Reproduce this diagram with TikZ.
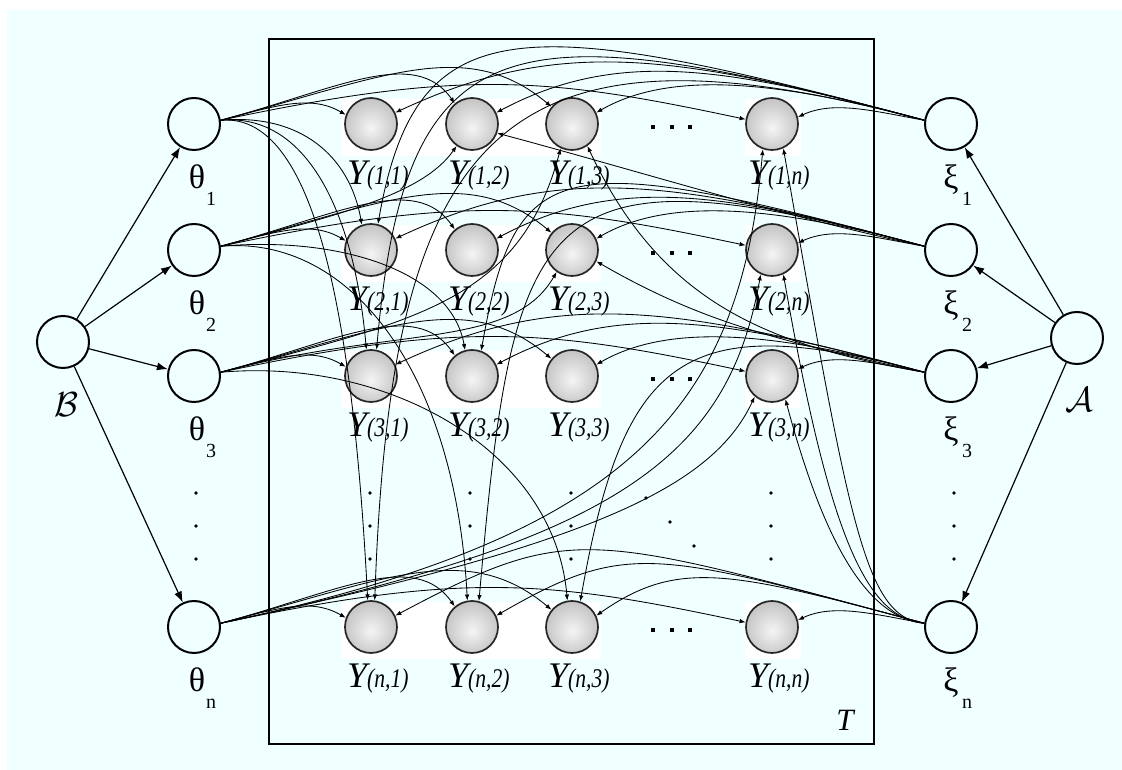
\documentclass[tikz,border=0pt]{standalone}
\usepackage{fontspec}
\setmainfont{Liberation Serif}
\usepackage{graphicx}
\usetikzlibrary{arrows.meta}
\definecolor{bgc}{RGB}{240,255,255}
\pgfdeclareradialshading{ballsh}{\pgfpoint{0bp}{-4bp}}{color(0bp)=(white!96!black); color(22bp)=(black!20); color(40bp)=(black!32); color(50bp)=(black!45)}
\newcommand\ylabtext[2]{\fontsize{36}{36}\selectfont\itshape Y\scalebox{0.8}[1]{\fontsize{27}{27}\selectfont(#1,#2)}}
\newcommand\callab[1]{\scalebox{1.4}{\fontsize{24}{24}\selectfont$\mathcal{#1}$}}
\tikzset{
  obs/.style={circle, minimum size=52pt, inner sep=0pt, draw=black!85, line width=1.7pt, shading=ballsh},
  par/.style={circle, minimum size=52pt, inner sep=0pt, draw=black, line width=2pt},
  e/.style={-{Latex[length=6pt,width=4.5pt]}, line width=0.85pt},
  big/.style={-{Latex[length=11pt,width=8pt]}, line width=1.2pt},
  glab/.style={inner sep=0pt, font=\fontsize{34}{34}\selectfont},
  slab/.style={inner sep=0pt, font=\fontsize{20}{20}\selectfont},
  cal/.style={inner sep=0pt},
  ylab/.style={inner sep=0pt},
  dotc/.style={fill=black, circle, inner sep=0pt, minimum size=3.6pt},
  dots/.style={fill=black, rectangle, inner sep=0pt, minimum size=4.5pt}
}
\begin{document}
\begin{tikzpicture}[x=1pt,y=1pt]
\useasboundingbox (0,0) rectangle (1122,770);
\fill[bgc] (7,0) rectangle (1122,760);
% plate
\draw[line width=2.2pt] (269,26) rectangle (874,731);
\node[inner sep=0pt, font=\fontsize{31}{31}\selectfont\itshape] (Tl) at (845,50) {T};
% white backgrounds
\foreach \yy in {646,520,394,143}{
  \fill[white] (342,\yy-32) rectangle (601,\yy+25);
  \fill[white] (745,\yy-32) rectangle (801,\yy+25);
}
% observed nodes
\foreach \r/\yy in {1/646,2/520,3/394,n/143}{
  \foreach \c/\xx in {1/371,2/472,3/572,n/772}{
    \node[obs] (y\r\c) at (\xx,\yy) {};
    \node[ylab, anchor=base west] (l\r\c) at (\xx-24,\yy-61) {\ylabtext{\r}{\c}};
  }
}
% parameter nodes
\foreach \r/\yy in {1/646,2/520,3/394,n/143}{
  \node[par] (th\r) at (194,\yy) {};
  \node[par] (xi\r) at (951,\yy) {};
  \node[glab, anchor=base] (tl\r) at (197,\yy-65) {θ};
  \node[slab, anchor=base] (ts\r) at (211,\yy-82) {\r};
  \node[glab, anchor=base] (xl\r) at (951,\yy-65) {ξ};
  \node[slab, anchor=base] (xs\r) at (967,\yy-82) {\r};
}
\node[par] (B) at (63,428) {};
\node[par] (A) at (1077,432) {};
\node[cal] (Bl) at (66,365) {\callab{B}};
\node[cal] (Al) at (1079,370) {\callab{A}};
% dots
\foreach \yy in {277,244,211}{
  \foreach \xx in {196,954,370,470,571,771}{
    \node[dotc] at (\xx,\yy) {};
  }
}
\node[dotc] at (646,272) {};
\node[dotc] at (670,248) {};
\node[dotc] at (694,224) {};
\foreach \yy in {646,520,394,143}{
  \foreach \xx in {653,672,690}{
    \node[dots] at (\xx,\yy-3) {};
  }
}
% hyper arrows
\foreach \r in {1,2,3,n}{
  \draw[big] (B) -- (th\r);
  \draw[big] (A) -- (xi\r);
}
% theta row edges
\foreach \r in {1,2,3,n}{
  \draw[e] (th\r.8) .. controls +(15:60) and +(150:40) .. (y\r1.160);
  \draw[e] (th\r.8) .. controls +(15:120) and +(125:70) .. (y\r2.130);
  \draw[e] (th\r.8) .. controls +(15:170) and +(140:110) .. (y\r3.140);
  \draw[e] (th\r.8) .. controls +(12:250) and +(168:200) .. (y\r n.170);
}
% theta column edges
\draw[e] (th1.8) .. controls +(5:80) and +(100:70) .. (y21.110);
\draw[e] (th1.8) .. controls +(5:90) and +(95:130) .. (y31.100);
\draw[e] (th1.8) .. controls +(5:100) and +(93:260) .. (yn1.97);
\draw[e] (th2.8) .. controls +(15:120) and +(235:60) .. (y12.235);
\draw[e] (th2.8) .. controls +(5:120) and +(100:80) .. (y32.105);
\draw[e] (th2.8) .. controls +(5:130) and +(93:230) .. (yn2.100);
\draw[e] (th3.8) .. controls +(15:200) and +(255:160) .. (y13.245);
\draw[e] (th3.8) .. controls +(15:180) and +(240:90) .. (y23.235);
\draw[e] (th3.8) .. controls +(5:170) and +(95:150) .. (yn3.100);
\draw[e] (thn.8) .. controls +(12:420) and +(265:260) .. (y1n.250);
\draw[e] (thn.8) .. controls +(12:400) and +(260:190) .. (y2n.245);
\draw[e] (thn.8) .. controls +(12:380) and +(245:100) .. (y3n.230);
% xi row edges
\foreach \r in {1,2,3}{
  \draw[e] (xi\r.172) .. controls +(170:50) and +(25:40) .. (y\r n.15);
  \draw[e] (xi\r.172) .. controls +(165:140) and +(30:90) .. (y\r3.25);
  \draw[e] (xi\r.172) .. controls +(165:200) and +(28:140) .. (y\r2.25);
  \draw[e] (xi\r.172) .. controls +(165:260) and +(25:180) .. (y\r1.25);
}
\draw[e] (xin.172) .. controls +(170:50) and +(25:40) .. (ynn.15);
\draw[e] (xin.172) .. controls +(165:200) and +(35:100) .. (yn3.25);
\draw[e] (xin.172) .. controls +(165:280) and +(30:150) .. (yn2.25);
\draw[e] (xin.172) .. controls +(165:350) and +(28:200) .. (yn1.25);
% xi column edges
\draw[e] (xi1.172) .. controls +(165:420) and +(80:220) .. (y21.75);
\draw[e] (xi1.172) .. controls +(165:430) and +(85:330) .. (y31.78);
\draw[e] (xi1.172) .. controls +(165:440) and +(88:470) .. (yn1.82);
\draw[e] (xi2.172) .. controls +(168:150) and +(-15:150) .. (y12.-20);
\draw[e] (xi2.172) .. controls +(165:380) and +(80:200) .. (y32.70);
\draw[e] (xi2.172) .. controls +(165:400) and +(85:400) .. (yn2.75);
\draw[e] (xi3.172) .. controls +(170:150) and +(-65:180) .. (y13.-55);
\draw[e] (xi3.172) .. controls +(168:150) and +(-30:120) .. (y23.-25);
\draw[e] (xi3.172) .. controls +(165:250) and +(80:250) .. (yn3.72);
\draw[e] (xin.172) .. controls +(175:60) and +(-80:380) .. (y1n.-65);
\draw[e] (xin.172) .. controls +(175:60) and +(-80:260) .. (y2n.-65);
\draw[e] (xin.172) .. controls +(175:60) and +(-75:140) .. (y3n.-60);
\end{tikzpicture}
\end{document}
